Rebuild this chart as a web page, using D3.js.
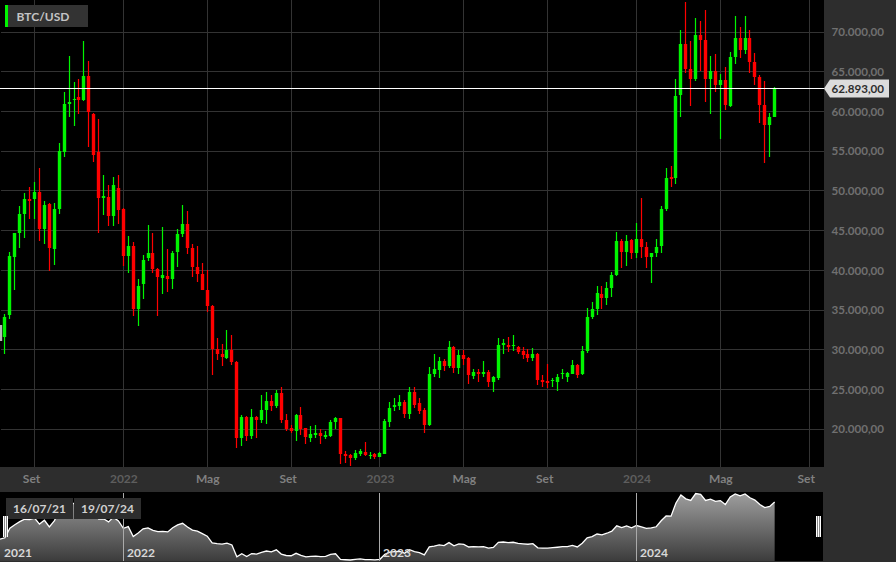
<!DOCTYPE html>
<html>
<head>
<meta charset="utf-8">
<script src="https://cdn.jsdelivr.net/npm/d3@7"></script>
<style>
    html, body { margin: 0; padding: 0; background: #2d2d2d; overflow: hidden; }
    svg { display: block; font-family: Lato, "Open Sans", sans-serif; font-weight: 700; }
</style>
</head>
<body>
<div id="graph-container"></div>
<script>
// weekly candles, first week is 12/07/21
var opens = [31160,
    31660,34360,41660,44690,47080,49010,48970,49930,45190,48340,
    42670,47710,54960,60930,61440,61890,61510,64460,59670,54890,
    49130,49300,46830,50430,47780,41790,43120,35120,38260,41540,
    42240,40150,39090,39350,38890,42290,44560,45820,42800,40400,
    39520,37580,35490,30080,29450,29020,29950,28440,18940,21510,
    19160,21590,21170,22470,23600,22970,24540,21210,20170,19790,
    21770,20130,18940,19320,19540,19070,19200,20880,21390,16890,
    16730,16430,16890,17180,16640,16850,16550,16930,20960,22770,
    22940,23400,21890,24660,23280,22430,20580,27000,27510,28570,
    28010,30330,27760,29320,28980,26750,27180,26930,27180,25920,
    26460,30680,30580,30560,30330,29830,29450,29020,29450,26210,
    26090,26090,25920,26930,26590,27000,28060,26930,29900,34110,
    35120,37080,36580,37840,39470,43750,42290,43810,42170,44010,
    42920,41660,42170,43050,47780,51740,51610,62070,68490,65340,
    64080,69620,68990,64080,65090,63400,63960,60760,66930,69320,
    67730,69320,66220,64330,60880,58290,59300];
var closes = [33140,
    34180,41790,44690,47080,49040,48750,49930,45190,48210,42840,
    47710,55090,60930,61260,61640,61440,64460,59930,54510,49090,
    49380,46900,50730,47620,41790,43120,35120,38090,41360,42170,
    40150,39150,39400,38890,42240,44560,45820,42800,40400,39520,
    37580,35490,30080,29450,29070,29950,28440,18940,21510,19160,
    21590,21170,22470,23600,22970,24540,21140,20040,19830,21770,
    20080,18990,19410,19540,19120,19320,20920,21390,16850,16640,
    16430,16980,17270,16770,16770,16480,16980,21010,22720,23060,
    23400,21890,24660,23100,22350,20580,27000,27560,28570,28010,
    30330,27760,29320,28890,26840,27180,26970,27180,25920,26550,
    30580,30830,30330,30620,29780,29400,29020,29450,26170,25960,
    25870,26250,26630,27060,27060,28060,26840,29900,34110,35120,
    37210,36580,37840,39470,43750,42330,43750,42210,44010,42920,
    41660,42170,43000,47780,51690,51530,62020,68490,65340,64080,
    69620,68990,64080,65090,63400,63960,60810,66930,69320,67730,
    69320,66220,64330,60880,58290,59300,62893];
var highs = [33140,
    34520,42290,44760,48120,49720,50480,51110,52870,48790,48440,
    48460,56020,62520,67020,63700,64080,68900,66350,59880,59040,
    51990,50730,51740,51990,47910,44310,43550,38890,41920,45690,
    44760,40350,45440,42670,42460,45190,48210,47460,43380,43050,
    40910,40030,35660,31460,30710,32470,31840,28570,21770,21680,
    22520,21680,24320,24700,24280,24910,25290,21890,20580,21930,
    22810,20170,20420,20540,20000,19750,21170,21590,21430,17230,
    16850,17400,17520,18370,17110,16980,17110,21260,23400,23910,
    24280,23690,25290,25330,23980,22650,27810,29490,29150,28890,
    31090,30490,30030,29990,29150,27630,27560,28570,27510,26720,
    31460,31370,31590,31880,30490,30410,30080,30240,29650,26800,
    28230,26430,26930,27560,27260,28690,28230,30460,35240,36000,
    38010,38010,38520,39780,44810,43930,44430,44010,45950,49090,
    43630,42240,43930,48160,52870,53120,64080,70250,73780,68940,
    71760,71390,72770,66980,67230,64710,65590,67480,72020,70630,
    72020,70250,67360,64590,63830,59880,63070];
var lows = [31160,
    29450,33930,37510,42870,44060,46450,46530,43750,43380,39900,
    40730,47080,54260,59370,58240,59670,61390,55590,53630,44690,
    47030,45640,45640,45820,40610,39720,34310,33050,36370,41240,
    39650,34310,37000,37260,37630,40480,44260,42120,39220,38590,
    37500,34810,26800,28690,28010,28860,28100,17690,17900,18530,
    18820,18940,20760,20670,22310,22720,20830,19790,19570,18570,
    19320,18190,18440,18940,18190,18740,18990,20080,15670,15800,
    15420,16100,16640,16600,16260,16260,16480,16890,20330,22350,
    22430,21430,21340,22680,21970,19570,20460,26590,26500,27340,
    27760,27130,27000,28140,25750,26380,25920,26550,25370,24740,
    26250,29520,29780,29900,29490,28890,28520,28640,25620,25370,
    25170,25370,24860,26380,25960,26930,26500,26880,29650,33930,
    34440,35150,35690,36700,39350,40280,40530,41410,41540,41540,
    40280,38470,41660,42240,47530,50560,50930,59370,64840,60760,
    63830,65090,61260,59670,62440,56530,60180,60560,65970,66730,
    67310,64910,63400,58540,53580,54330,59300];

var priceTicks = [20000, 25000, 30000, 35000, 40000, 45000, 50000, 55000, 60000, 65000, 70000];
var timeTickDates = ["2021-08-30", "2022-01-03", "2022-05-02", "2022-08-29", "2023-01-02", "2023-05-01", "2023-08-28", "2024-01-01", "2024-04-29", "2024-09-02"];
var timeTickLabels = ["Set", "2022", "Mag", "Set", "2023", "Mag", "Set", "2024", "Mag", "Set"];
var navYearDates = ["2021-07-12", "2022-01-03", "2023-01-02", "2024-01-01"];
var navYearLabels = ["2021", "2022", "2023", "2024"];
var windowLabels = ["16/07/21", "19/07/24"];
var symbol = "BTC/USD";
var lastPrice = 62893;

var width = 896, height = 562;
var plotRight = 824, plotBottom = 467;
var navTop = 492, navBottom = 561;

var parseDay = d3.utcParse("%Y-%m-%d");
var windowStart = parseDay("2021-07-16");
var dates = d3.utcMonday.range(parseDay("2021-07-12"), parseDay("2024-07-16"));
var candles = dates.map((date, i) => ({
    date: date, open: opens[i], high: highs[i], low: lows[i], close: closes[i]
}));

var green = "#00f500", red = "#ff0000";
var gridColor = "#333333", panelColor = "#2d2d2d";

var numberFormat = d3.formatLocale({decimal: ",", thousands: ".", grouping: [3], currency: ["", ""]}).format(",.2f");

var xScale = d3.scaleUtc()
    .domain([dates[1], dates[dates.length - 1]])
    .range([4.945, 774.65]);
var yScale = d3.scaleLinear()
    .domain([20000, 70000])
    .range([429.15, 32.15]);
var navY = d3.scaleLinear()
    .domain([d3.min(closes), d3.max(closes)])
    .range([navBottom - 1, navTop + 1.5]);

var colX = d => Math.floor(xScale(d));
var rowY = v => Math.round(yScale(v) + 0.15);

var svg = d3.select("#graph-container").append("svg")
    .attr("width", width)
    .attr("height", height);

// panels
svg.append("rect").attr("width", width).attr("height", height).attr("fill", panelColor);
svg.append("rect").attr("width", plotRight).attr("height", plotBottom).attr("fill", "#000");
svg.append("rect").attr("y", navTop).attr("width", plotRight - 1).attr("height", navBottom - navTop).attr("fill", "#000");

// grid
var plot = svg.append("g");
plot.selectAll(".hgrid").data(priceTicks).join("rect")
    .attr("class", "hgrid")
    .attr("x", 1).attr("width", plotRight - 1)
    .attr("y", d => Math.floor(yScale(d))).attr("height", 1)
    .attr("fill", gridColor);
plot.selectAll(".vgrid").data(timeTickDates.map(parseDay)).join("rect")
    .attr("class", "vgrid")
    .attr("x", colX).attr("width", 1)
    .attr("y", 0).attr("height", plotBottom)
    .attr("fill", gridColor);

// candles
function candleColor(d) {
    if (d.date < windowStart) return "#b4b4b4";
    return d.close >= d.open ? green : red;
}
var candle = plot.selectAll(".candle").data(candles).join("g").attr("class", "candle");
candle.append("rect")
    .attr("x", d => colX(d.date) - 0.1).attr("width", 1.2)
    .attr("y", d => rowY(d.high))
    .attr("height", d => Math.max(1, rowY(d.low) - rowY(d.high)))
    .attr("fill", candleColor);
candle.append("rect")
    .attr("x", d => colX(d.date) - 1.2)
    .attr("width", 3.4)
    .attr("y", d => rowY(Math.max(d.open, d.close)))
    .attr("height", d => Math.max(1, rowY(Math.min(d.open, d.close)) - rowY(Math.max(d.open, d.close))))
    .attr("fill", candleColor);

// last price line
svg.append("rect")
    .attr("x", 0).attr("width", plotRight)
    .attr("y", Math.floor(yScale(lastPrice))).attr("height", 1)
    .attr("fill", "#fff");

// price axis
var yAxis = svg.append("g")
    .attr("transform", "translate(" + (plotRight + 7.5) + ",0)")
    .call(d3.axisRight(yScale).tickValues(priceTicks).tickSize(0).tickPadding(0).tickFormat(numberFormat));
yAxis.select(".domain").remove();
yAxis.selectAll("text")
    .attr("fill", "#707070").attr("font-size", 11.6).attr("font-family", "Lato").attr("font-weight", 700);

// last price label
var py = Math.floor(yScale(lastPrice)) + 0.5;
svg.append("path")
    .attr("d", d3.line()([[plotRight, py], [830, py - 9], [889, py - 9], [889, py + 9], [830, py + 9]]) + "Z")
    .attr("fill", "#dcdcdc");
svg.append("text")
    .attr("x", plotRight + 7.5).attr("y", py + 0.5)
    .attr("dy", "0.35em")
    .attr("font-size", 11.6).attr("fill", "#2d2d2d")
    .text(numberFormat(lastPrice));

// time axis
var xAxis = svg.append("g")
    .attr("transform", "translate(0," + plotBottom + ")")
    .call(d3.axisBottom(xScale)
        .tickValues(timeTickDates.map(parseDay))
        .tickSize(0).tickPadding(0)
        .tickFormat((d, i) => timeTickLabels[i]));
xAxis.select(".domain").remove();
xAxis.selectAll("text")
    .attr("y", 7)
    .attr("dx", (d, i) => timeTickLabels[i] === "Set" ? -3.5 : 0)
    .attr("font-size", 12).attr("font-family", "Lato").attr("font-weight", 700)
    .attr("fill", (d, i) => /^\d/.test(timeTickLabels[i]) ? "#5e5e5e" : "#808080");

// symbol legend
svg.append("rect").attr("x", 8).attr("y", 5).attr("width", 80).attr("height", 22).attr("fill", "#333");
svg.append("rect").attr("x", 5).attr("y", 5).attr("width", 3).attr("height", 22).attr("fill", green);
svg.append("text").attr("x", 16.5).attr("y", 21).attr("font-size", 12).attr("fill", "#c4c4c4").text(symbol);

// navigator
var grad = svg.append("defs").append("linearGradient")
    .attr("id", "navFill").attr("gradientUnits", "userSpaceOnUse")
    .attr("x1", 0).attr("x2", 0).attr("y1", navTop).attr("y2", navBottom);
grad.append("stop").attr("offset", 0).attr("stop-color", "#a0a0a0");
grad.append("stop").attr("offset", 1).attr("stop-color", "#3c3c3c");

var navClip = svg.append("clipPath").attr("id", "navClip").append("rect")
    .attr("y", navTop).attr("width", plotRight).attr("height", navBottom - navTop);
var nav = svg.append("g").attr("clip-path", "url(#navClip)");
nav.append("path")
    .datum(candles)
    .attr("fill", "url(#navFill)")
    .attr("d", d3.area().x(d => xScale(d.date)).y0(navBottom).y1(d => navY(d.close)));
nav.append("path")
    .datum(candles)
    .attr("fill", "none").attr("stroke", "#fff").attr("stroke-width", 1.3)
    .attr("d", d3.line().x(d => xScale(d.date)).y(d => navY(d.close)));

nav.selectAll(".navline").data(navYearDates.slice(1).map(parseDay)).join("rect")
    .attr("class", "navline")
    .attr("x", colX).attr("width", 1)
    .attr("y", navTop + 1).attr("height", navBottom - navTop)
    .attr("fill", "#aaa");
svg.selectAll(".navyear").data(navYearDates).join("text")
    .attr("class", "navyear")
    .attr("x", (d, i) => i === 0 ? 4 : colX(parseDay(d)) + 4)
    .attr("y", 556.5)
    .attr("font-size", 12).attr("fill", "#d8d8d8")
    .text((d, i) => navYearLabels[i]);

// selection date boxes
var boxes = svg.selectAll(".datebox").data(windowLabels).join("g")
    .attr("class", "datebox")
    .attr("transform", (d, i) => "translate(" + (6 + i * 68) + ",498)");
boxes.append("rect").attr("width", 67).attr("height", 21).attr("fill", panelColor);
boxes.append("text").attr("x", 33.5).attr("y", 15).attr("text-anchor", "middle")
    .attr("font-size", 12).attr("fill", "#d0d0d0").text(d => d);

// navigator handles
[3, 816].forEach(hx => {
    var h = svg.append("g").attr("transform", "translate(" + hx + ",516)");
    h.append("rect").attr("width", 5).attr("height", 21).attr("fill", "#888");
    h.selectAll("rect.bar").data([0, 2, 4]).join("rect")
        .attr("class", "bar")
        .attr("x", d => d).attr("width", 1).attr("height", 21)
        .attr("fill", "#fff");
});
</script>
</body>
</html>
